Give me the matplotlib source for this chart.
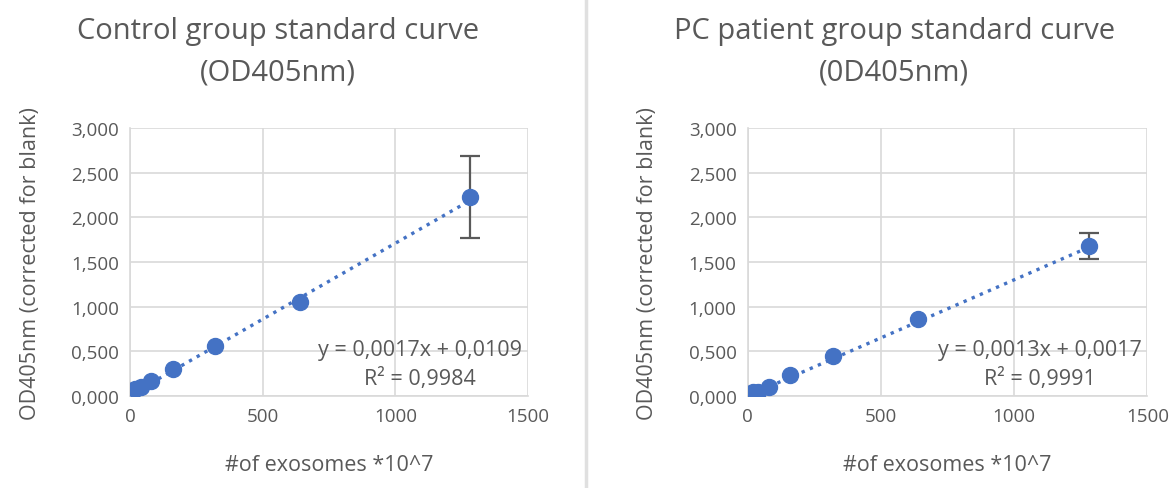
import numpy as np
import matplotlib
matplotlib.use("Agg")
import matplotlib.pyplot as plt
from matplotlib.ticker import FuncFormatter, MultipleLocator

plt.rcParams['font.family'] = ['Open Sans', 'DejaVu Sans']

# donnees
exosomes = [20, 40, 80, 160, 320, 640, 1280]
od_control = [0.08, 0.10, 0.17, 0.30, 0.56, 1.05, 2.23]
err_control = [0, 0, 0, 0, 0, 0, 0.46]
od_pc = [0.04, 0.05, 0.10, 0.24, 0.45, 0.86, 1.68]
err_pc = [0, 0, 0, 0, 0, 0, 0.14]

titles = ["Control group standard curve\n(OD405nm)", "PC patient group standard curve\n(0D405nm)"]
equations = ["y = 0,0017x + 0,0109\nR² = 0,9984", "y = 0,0013x + 0,0017\nR² = 0,9991"]
slopes = [0.0017, 0.0013]
intercepts = [0.0109, 0.0017]

blue = "#4472C4"
grey_txt = "#595959"
grid_col = "#D9D9D9"

fig = plt.figure(figsize=(11.72, 4.89), dpi=100)
ax1 = fig.add_axes([0.111, 0.188, 0.3395, 0.548])
ax2 = fig.add_axes([0.638, 0.188, 0.341, 0.548])

# ligne de separation
fig.add_artist(plt.Line2D([0.5, 0.5], [0.0, 1.0], color="#E0E0E0", lw=2.5, transform=fig.transFigure))

# titres centres sur chaque zone de graphique
title_x = [0.237, 0.763]

ys = [od_control, od_pc]
errs = [err_control, err_pc]
for k, ax in enumerate([ax1, ax2]):
    x = np.array(exosomes)
    xx = np.array([x.min(), x.max()])
    ax.plot(xx, slopes[k] * xx + intercepts[k], ':', color=blue, lw=2.4, zorder=2)
    e = [v if v > 0 else np.nan for v in errs[k]]
    ax.errorbar(x, ys[k], yerr=e, fmt='none', ecolor=grey_txt, elinewidth=1.6, capsize=7, capthick=1.6, zorder=3)
    ax.plot(x, ys[k], 'o', color=blue, ms=11.5, zorder=4)
    ax.set_xlim(0, 1500)
    ax.set_ylim(0, 3.0)
    ax.xaxis.set_major_locator(MultipleLocator(500))
    ax.yaxis.set_major_locator(MultipleLocator(0.5))
    ax.yaxis.set_major_formatter(FuncFormatter(lambda v, p: ("%.3f" % v).replace('.', ',')))
    ax.grid(True, color=grid_col, lw=1.2)
    ax.set_axisbelow(True)
    for s in ['top', 'right']:
        ax.spines[s].set_visible(False)
    for s in ['bottom', 'left']:
        ax.spines[s].set_color(grid_col)
        ax.spines[s].set_linewidth(1.2)
    ax.tick_params(length=0, labelsize=13.5, labelcolor=grey_txt, pad=8)
    ax.set_xlabel("#of exosomes *10^7", fontsize=15.5, color=grey_txt, labelpad=21)
    ax.set_ylabel("OD405nm (corrected for blank)", fontsize=15.5, color=grey_txt, labelpad=22)
    fig.text(title_x[k], 0.893, titles[k], ha='center', va='center', fontsize=21,
             color=grey_txt, linespacing=1.55)
    ax.text(0.985, 0.12, equations[k], transform=ax.transAxes, ha='right', va='center',
            fontsize=15.5, color=grey_txt, multialignment='center', linespacing=1.45)

fig.savefig("out.png", dpi=100)
